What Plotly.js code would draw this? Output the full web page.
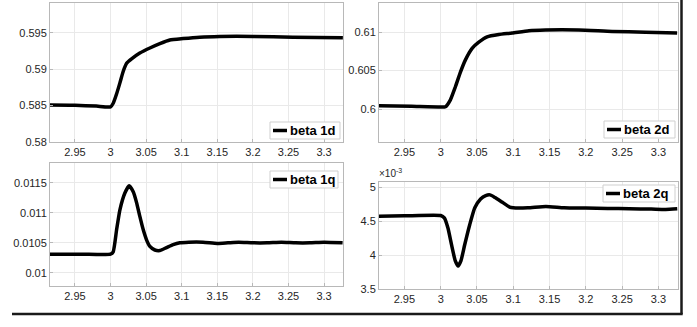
<!DOCTYPE html>
<html>
<head>
<meta charset="utf-8">
<script src="https://cdn.plot.ly/plotly-3.0.1.min.js"></script>
<style>html,body{margin:0;padding:0;background:#fff;}#chart{width:697px;height:327px;}</style>
</head>
<body>
<div id="chart"></div>
<script>
// ---- data ----
const xTickVals = [2.95, 3, 3.05, 3.1, 3.15, 3.2, 3.25, 3.3];
const xTickText = ["2.95", "3", "3.05", "3.1", "3.15", "3.2", "3.25", "3.3"];

const seriesNames = ["beta 1d", "beta 2d", "beta 1q", "beta 2q"];

const t1d = [2.915, 2.95, 2.98, 3.0, 3.0038, 3.0086, 3.0132, 3.0179, 3.0226, 3.0296, 3.0412, 3.0553, 3.0693, 3.0833, 3.102, 3.1254, 3.1534, 3.2002, 3.2563, 3.3264];
const beta1d = [0.58505, 0.58502, 0.5849, 0.5848, 0.5853, 0.5866, 0.5881, 0.5897, 0.5908, 0.5914, 0.5922, 0.5929, 0.5935, 0.5940, 0.5942, 0.5944, 0.5945, 0.5945, 0.5944, 0.5943];

const t2d = [2.915, 2.96, 3.0, 3.0066, 3.0134, 3.0203, 3.0272, 3.0341, 3.0433, 3.0525, 3.064, 3.0801, 3.0985, 3.1215, 3.1444, 3.1903, 3.2362, 3.2821, 3.3258];
const beta2d = [0.60043, 0.60035, 0.60026, 0.6003, 0.6012, 0.6029, 0.6048, 0.6064, 0.6079, 0.6087, 0.6094, 0.6097, 0.6099, 0.6102, 0.6103, 0.6103, 0.6101, 0.6100, 0.6099];

const t1q = [2.915, 2.96, 3.0, 3.0038, 3.0086, 3.0132, 3.0202, 3.0262, 3.0319, 3.0366, 3.0412, 3.0459, 3.0506, 3.0553, 3.0623, 3.0693, 3.0787, 3.088, 3.0974, 3.11, 3.13, 3.15, 3.165, 3.18, 3.2, 3.22, 3.24, 3.26, 3.28, 3.3, 3.326];
const beta1q = [0.01031, 0.01031, 0.01031, 0.01035, 0.01072, 0.01105, 0.01133, 0.01145, 0.01135, 0.01117, 0.01094, 0.01072, 0.01055, 0.01044, 0.01038, 0.01037, 0.01042, 0.01047, 0.0105, 0.01051, 0.01051, 0.01049, 0.0105, 0.01051, 0.0105, 0.0105, 0.01051, 0.0105, 0.0105, 0.01051, 0.0105];

const t2q = [2.915, 2.95, 3.0, 3.005, 3.01, 3.015, 3.02, 3.024, 3.028, 3.033, 3.04, 3.047, 3.055, 3.062, 3.068, 3.075, 3.085, 3.095, 3.1, 3.12, 3.145, 3.17, 3.2, 3.23, 3.26, 3.29, 3.31, 3.326];
const beta2q_e3 = [4.575, 4.58, 4.585, 4.55, 4.40, 4.15, 3.92, 3.84, 3.92, 4.15, 4.45, 4.70, 4.83, 4.88, 4.89, 4.85, 4.78, 4.71, 4.70, 4.70, 4.72, 4.70, 4.695, 4.69, 4.685, 4.68, 4.675, 4.685];

const y1dTicks = [0.58, 0.585, 0.59, 0.595];
const y2dTicks = [0.6, 0.605, 0.61];
const y1qTicks = [0.01, 0.0105, 0.011, 0.0115];
const y2qTicks = [3.5, 4, 4.5, 5];

// ---- figure ----
const W = 697, H = 327;
const px = v => v / W, py = v => (H - v) / H;
const FONT = "Liberation Sans, Arial, sans-serif";
const tickFont = {family: FONT, size: 11, color: "#262626"};
const lineStyle = {color: "#000000", width: 3.5, shape: "spline", smoothing: 0.5};

function xaxis(dom, anchor) {
  return {domain: dom, anchor: anchor, range: [2.915, 3.327], tickvals: xTickVals, ticktext: xTickText,
    showgrid: true, gridcolor: "#e9e9e9", gridwidth: 1, zeroline: false, showline: true, mirror: true,
    linecolor: "#b8b8b8", linewidth: 1, ticks: "inside", ticklen: 3, tickcolor: "#b8b8b8",
    tickfont: tickFont, fixedrange: true};
}
function yaxis(dom, anchor, range, vals) {
  return {domain: dom, anchor: anchor, range: range, tickvals: vals, ticktext: vals.map(String),
    showgrid: true, gridcolor: "#e9e9e9", gridwidth: 1, zeroline: false, showline: true, mirror: true,
    linecolor: "#b8b8b8", linewidth: 1, ticks: "inside", ticklen: 3, tickcolor: "#b8b8b8",
    tickfont: tickFont, fixedrange: true};
}

const traces = [
  {x: t1d, y: beta1d, xaxis: "x", yaxis: "y", name: seriesNames[0], mode: "lines", line: lineStyle},
  {x: t2d, y: beta2d, xaxis: "x2", yaxis: "y2", name: seriesNames[1], mode: "lines", line: lineStyle},
  {x: t1q, y: beta1q, xaxis: "x3", yaxis: "y3", name: seriesNames[2], mode: "lines", line: lineStyle},
  {x: t2q, y: beta2q_e3, xaxis: "x4", yaxis: "y4", name: seriesNames[3], mode: "lines", line: lineStyle}
];

// compact MATLAB-style legend boxes: [left, top, right, bottom] in pixels
const legendBoxes = [[270, 122, 340, 139], [604, 121, 675, 138], [270, 171, 338, 188], [603, 185, 675, 202]];
const shapes = [], annotations = [];
legendBoxes.forEach((b, i) => {
  const cy = (b[1] + b[3]) / 2;
  shapes.push({type: "rect", xref: "paper", yref: "paper", layer: "above", x0: px(b[0]), x1: px(b[2]), y0: py(b[3]), y1: py(b[1]),
    fillcolor: "#ffffff", line: {color: "#cfcfcf", width: 1}});
  shapes.push({type: "line", xref: "paper", yref: "paper", layer: "above", x0: px(b[0] + 3), x1: px(b[0] + 17), y0: py(cy), y1: py(cy),
    line: {color: "#000000", width: 3.5}});
  annotations.push({xref: "paper", yref: "paper", x: px(b[0] + 17.5), y: py(cy), xanchor: "left", yanchor: "middle",
    text: "<b>" + seriesNames[i] + "</b>", showarrow: false, font: {family: FONT, size: 13, color: "#000"}});
});
annotations.push({xref: "paper", yref: "paper", x: px(377), y: py(173), xanchor: "left", yanchor: "middle",
  text: "×10<sup>-3</sup>", showarrow: false, font: {family: FONT, size: 10, color: "#262626"}});
shapes.push({type: "line", xref: "paper", yref: "paper", x0: px(681.5), x1: px(681.5), y0: py(314), y1: 1, line: {color: "#1a1a1a", width: 2.5}});
shapes.push({type: "line", xref: "paper", yref: "paper", x0: px(12), x1: px(682.7), y0: py(314), y1: py(314), line: {color: "#1a1a1a", width: 2.5}});

const xd1 = [px(50), px(343.3)], xd2 = [px(379), px(678)];
const layout = {
  width: W, height: H, margin: {l: 0, r: 0, t: 0, b: 0},
  paper_bgcolor: "#ffffff", plot_bgcolor: "#ffffff", showlegend: false,
  xaxis: xaxis(xd1, "y"),
  yaxis: yaxis([py(141.7), py(3)], "x", [0.58, 0.5991], y1dTicks),
  xaxis2: xaxis(xd2, "y2"),
  yaxis2: yaxis([py(141.7), py(3)], "x2", [0.59575, 0.6138], y2dTicks),
  xaxis3: xaxis(xd1, "y3"),
  yaxis3: yaxis([py(286), py(163)], "x3", [0.00978, 0.01183], y1qTicks),
  xaxis4: xaxis(xd2, "y4"),
  yaxis4: yaxis([py(289), py(182)], "x4", [3.5, 5.08], y2qTicks),
  annotations: annotations,
  shapes: shapes
};

Plotly.newPlot("chart", traces, layout, {staticPlot: true, displayModeBar: false});
</script>
</body>
</html>
